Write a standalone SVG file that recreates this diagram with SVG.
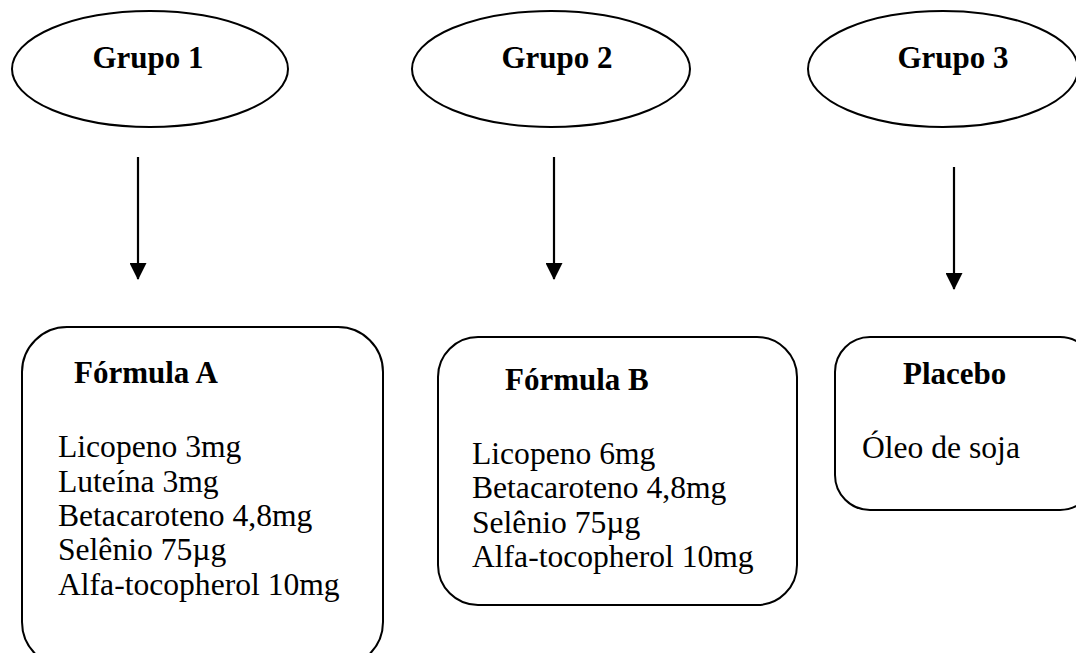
<svg xmlns="http://www.w3.org/2000/svg" width="1076" height="653" viewBox="0 0 1076 653">
<defs>
<style>
.shape{fill:#fff;stroke:#000;stroke-width:2}
.h{font-family:"Liberation Serif","Times New Roman",serif;font-weight:bold;font-size:31px;fill:#000}
.t{font-family:"Liberation Serif","Times New Roman",serif;font-size:31.6px;fill:#000}
.conn{stroke:#000;stroke-width:2.2;fill:none}
</style>
<marker id="arr" markerUnits="userSpaceOnUse" markerWidth="17" markerHeight="17" refX="16" refY="8.5" orient="auto" viewBox="0 0 17 17">
<path d="M0,0 L17,8.5 L0,17 Z" fill="#000"/>
</marker>
</defs>
<rect width="1076" height="653" fill="#fff"/>
<g id="grupo1">
<ellipse class="shape" cx="150" cy="69" rx="138" ry="58"/>
<text class="h" x="148" y="68" text-anchor="middle">Grupo 1</text>
</g>
<g id="grupo2">
<ellipse class="shape" cx="551" cy="69" rx="139" ry="58"/>
<text class="h" x="557" y="68" text-anchor="middle">Grupo 2</text>
</g>
<g id="grupo3">
<ellipse class="shape" cx="943" cy="69" rx="135" ry="58"/>
<text class="h" x="953" y="68" text-anchor="middle">Grupo 3</text>
</g>
<g id="connectors">
<line class="conn" x1="138" y1="157" x2="138" y2="279" marker-end="url(#arr)"/>
<line class="conn" x1="554" y1="157" x2="554" y2="279" marker-end="url(#arr)"/>
<line class="conn" x1="954" y1="167" x2="954" y2="289" marker-end="url(#arr)"/>
</g>
<g id="formulaA">
<rect class="shape" x="22" y="327" width="361" height="340" rx="45" ry="45"/>
<text class="h" x="74" y="383">Fórmula A</text>
<text class="t" x="58" y="457">Licopeno 3mg</text>
<text class="t" x="58" y="492">Luteína 3mg</text>
<text class="t" x="58" y="526">Betacaroteno 4,8mg</text>
<text class="t" x="58" y="560">Selênio 75µg</text>
<text class="t" x="58" y="595">Alfa-tocopherol 10mg</text>
</g>
<g id="formulaB">
<rect class="shape" x="438" y="337" width="359" height="268" rx="40" ry="40"/>
<text class="h" x="505" y="390">Fórmula B</text>
<text class="t" x="472" y="464">Licopeno 6mg</text>
<text class="t" x="472" y="498">Betacaroteno 4,8mg</text>
<text class="t" x="472" y="533">Selênio 75µg</text>
<text class="t" x="472" y="567">Alfa-tocopherol 10mg</text>
</g>
<g id="placebo">
<rect class="shape" x="835" y="337" width="260" height="173" rx="35" ry="35"/>
<text class="h" x="903" y="384">Placebo</text>
<text class="t" x="862" y="458">Óleo de soja</text>
</g>
</svg>
